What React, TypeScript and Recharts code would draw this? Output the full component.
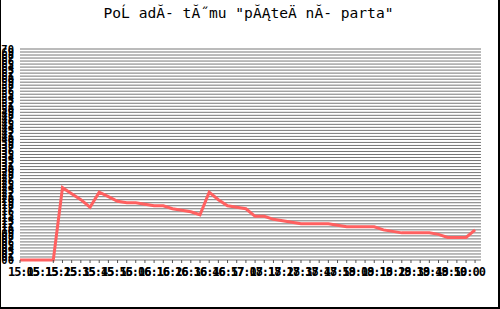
import React from 'react';
import { LineChart, Line, XAxis, YAxis, CartesianGrid } from 'recharts';

// title as it appears in the image (mis-decoded UTF-8)
const title = 'PoĹ adĂ- tĂ˝mu "pĂĄteÄ nĂ- parta"';

// minutes after 15:00 for every sample
const times = [
  5, 23.5, 28.6, 33.7, 38.8, 43.9, 49.0, 54.1, 59.2, 64.3, 69.3, 74.4, 79.5,
  84.6, 89.7, 94.8, 99.9, 105.0, 110.1, 115.2, 120.3, 125.4, 130.5, 135.6,
  140.7, 145.8, 150.9, 156.0, 161.1, 166.1, 171.2, 176.3, 181.4, 186.5, 191.6,
  196.7, 201.8, 206.9, 212.0, 217.1, 222.2, 227.3, 232.4, 237.5, 242.6, 247.7,
  252.8, 257.8,
];

const ranks = [
  0, 0, 24, 22, 20, 17.5, 22.5, 21, 19.5, 19, 19, 18.5, 18, 18, 17, 16.5, 16,
  15, 22.5, 20, 18, 17.5, 17, 14.5, 14.5, 13.5, 13, 12.5, 12, 12, 12, 12, 11.5,
  11, 11, 11, 11, 10, 9.5, 9, 9, 9, 9, 8.5, 7.5, 7.5, 7.5, 10,
];

const timeLabels = [
  '15:05', '15:15', '15:25', '15:35', '15:45', '15:55', '16:06', '16:16',
  '16:26', '16:36', '16:46', '16:57', '17:08', '17:18', '17:28', '17:38',
  '17:48', '17:59', '18:09', '18:19', '18:29', '18:39', '18:49', '18:50',
  '19:00',
];

const yTicks = Array.from({ length: 71 }, (_, i) => i);

const data = times.map((t, i) => ({ t, rank: ranks[i] }));

// label slots are spread evenly across the time axis
const labelStart = 6.94;
const labelStep = 10.32;
const labelTicks = timeLabels.map((_, i) => labelStart + i * labelStep);

const mono = 'DejaVu Sans Mono';

// short mark under the plot at each sample time
const SampleTick = (props: any) => (
  <line x1={props.x} x2={props.x} y1={props.y} y2={props.y + 3} stroke="#555" strokeWidth={1} />
);

export default function App() {
  return (
    <div style={{ position: 'absolute', left: 0, top: 0, width: 500, height: 309, background: '#fff', fontFamily: mono }}>
      <LineChart
        width={500}
        height={309}
        data={data}
        margin={{ top: 49, right: 19, bottom: 23, left: 0 }}
        style={{ fontFamily: mono }}
      >
        <CartesianGrid vertical={false} stroke="#777" />
        <XAxis
          dataKey="t"
          type="number"
          domain={[5, 261.1]}
          ticks={times}
          interval={0}
          tick={SampleTick}
          tickLine={false}
          tickSize={0}
          tickMargin={0}
          axisLine={false}
          height={4}
          allowDataOverflow
        />
        <XAxis
          xAxisId="labels"
          dataKey="t"
          type="number"
          domain={[5, 261.1]}
          ticks={labelTicks}
          tickFormatter={(v: number) => timeLabels[labelTicks.indexOf(v)] ?? ''}
          interval={0}
          tickLine={false}
          axisLine={false}
          tickSize={0}
          tickMargin={3}
          height={22}
          tick={{ fontFamily: mono, fontSize: 12, fontWeight: 'bold', letterSpacing: -1, fill: '#000' }}
          allowDataOverflow
        />
        <YAxis
          type="number"
          domain={[0, 70]}
          ticks={yTicks}
          interval={0}
          width={20}
          tickLine={false}
          axisLine={false}
          tickSize={0}
          tickMargin={6}
          tickFormatter={(v: number) => String(v).padStart(2, '0')}
          tick={{ fontFamily: mono, fontSize: 10.5, fontWeight: 'bold', fill: '#000' }}
        />
        <Line
          type="linear"
          dataKey="rank"
          stroke="#ff6060"
          strokeWidth={3}
          dot={false}
          isAnimationActive={false}
        />
      </LineChart>
      <svg width={500} height={309} style={{ position: 'absolute', left: 0, top: 0, pointerEvents: 'none' }}>
        <text x={248.5} y={18.3} textAnchor="middle" fontFamily={mono} fontSize={14.6} fill="#000">
          {title}
        </text>
      </svg>
      <div
        style={{
          position: 'absolute',
          left: 0,
          top: 0,
          width: 500,
          height: 309,
          boxSizing: 'border-box',
          borderLeft: '1px solid #000',
          borderRight: '2px solid #000',
          borderBottom: '2px solid #000',
          pointerEvents: 'none',
        }}
      />
    </div>
  );
}
